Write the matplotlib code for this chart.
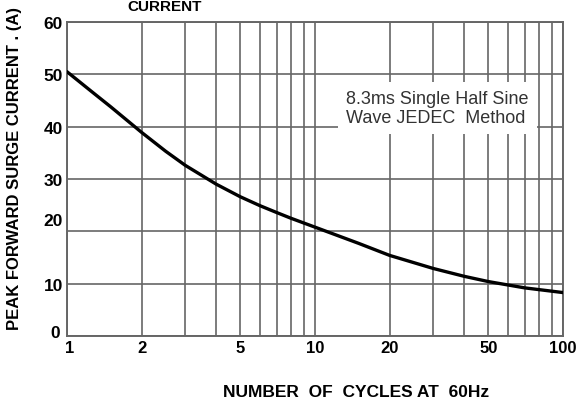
import matplotlib
matplotlib.use("Agg")
import matplotlib.pyplot as plt
import matplotlib.transforms as mtransforms
from matplotlib.ticker import FixedLocator, NullFormatter

# ==== Data ====
cycles = [1, 1.25, 1.5, 2, 2.5, 3, 4, 5, 6, 7, 8, 10, 15, 20, 30, 40, 50, 70, 100]
surge_current = [50.5, 46.8, 43.8, 38.9, 35.3, 32.6, 29.0, 26.6, 24.9, 23.6,
                 22.5, 20.8, 17.7, 15.4, 12.9, 11.4, 10.4, 9.2, 8.3]

x_ticks = [1, 2, 5, 10, 20, 50, 100]
x_grid = [1, 2, 3, 4, 5, 6, 7, 8, 9, 10, 20, 30, 40, 50, 60, 70, 80, 90, 100]
y_ticks = [0, 10, 20, 30, 40, 50, 60]

note = "8.3ms Single Half Sine\nWave JEDEC  Method"
# =====================================

narrow = ["Liberation Sans Narrow", "Liberation Sans", "DejaVu Sans"]
plain = ["Liberation Sans", "DejaVu Sans"]
grid_col = "#666666"

fig = plt.figure(figsize=(5.77, 4.14), dpi=100)
ax = fig.add_axes([67 / 577, 1 - 337 / 414, (563 - 67) / 577, (337 - 23) / 414])

ax.plot(cycles, surge_current, color="black", lw=2.4, solid_capstyle="round",
        solid_joinstyle="round", zorder=4)

ax.set_xscale("log")
ax.set_xlim(1, 100)
ax.set_ylim(0, 60)

# grid lines
ax.xaxis.set_major_locator(FixedLocator(x_grid))
ax.xaxis.set_minor_locator(FixedLocator([]))
ax.set_xticks(x_grid)
ax.set_xticklabels([str(v) if v in x_ticks else "" for v in x_grid],
                   family=narrow, fontweight="bold", fontsize=12)
ax.xaxis.set_minor_formatter(NullFormatter())
ax.set_yticks(y_ticks)
ax.set_yticklabels([str(v) for v in y_ticks], family=narrow,
                   fontweight="bold", fontsize=12.5)
ax.tick_params(length=0, pad=3, colors="black")
ax.grid(True, color=grid_col, lw=1.2)
ax.set_axisbelow(True)
for s in ax.spines.values():
    s.set_color(grid_col)
    s.set_linewidth(1.4)

# small label nudges as in the original drawing
for lab in ax.get_yticklabels():
    if lab.get_text() == "20":
        lab.set_transform(lab.get_transform() +
                          mtransforms.ScaledTranslation(0, 12 / 100, fig.dpi_scale_trans))
    if lab.get_text() == "0":
        lab.set_transform(lab.get_transform() +
                          mtransforms.ScaledTranslation(-3 / 100, 5 / 100, fig.dpi_scale_trans))
for lab in ax.get_xticklabels():
    if lab.get_text() == "1":
        lab.set_transform(lab.get_transform() +
                          mtransforms.ScaledTranslation(3 / 100, 0, fig.dpi_scale_trans))

# note box, white background covers the grid
ax.text(346 / 577, 1 - 109 / 414, note, transform=fig.transFigure,
        family=plain, fontsize=13, color="#333333", ha="left", va="center",
        linespacing=1.15, zorder=5,
        bbox=dict(facecolor="white", edgecolor="none", pad=6))

fig.text(15 / 577, 1 - 168 / 414, "PEAK FORWARD SURGE CURRENT . (A)",
         rotation=90, ha="center", va="center", family=plain,
         fontweight="bold", fontsize=12)
fig.text(356 / 577, 1 - 393 / 414, "NUMBER  OF  CYCLES AT  60Hz",
         ha="center", va="center", family=plain, fontweight="bold", fontsize=12.5)
fig.text(165 / 577, 1 - 11 / 414, "CURRENT", ha="center", va="baseline",
         family=plain, fontweight="bold", fontsize=11)

fig.savefig("out.png", dpi=100, facecolor="white")
